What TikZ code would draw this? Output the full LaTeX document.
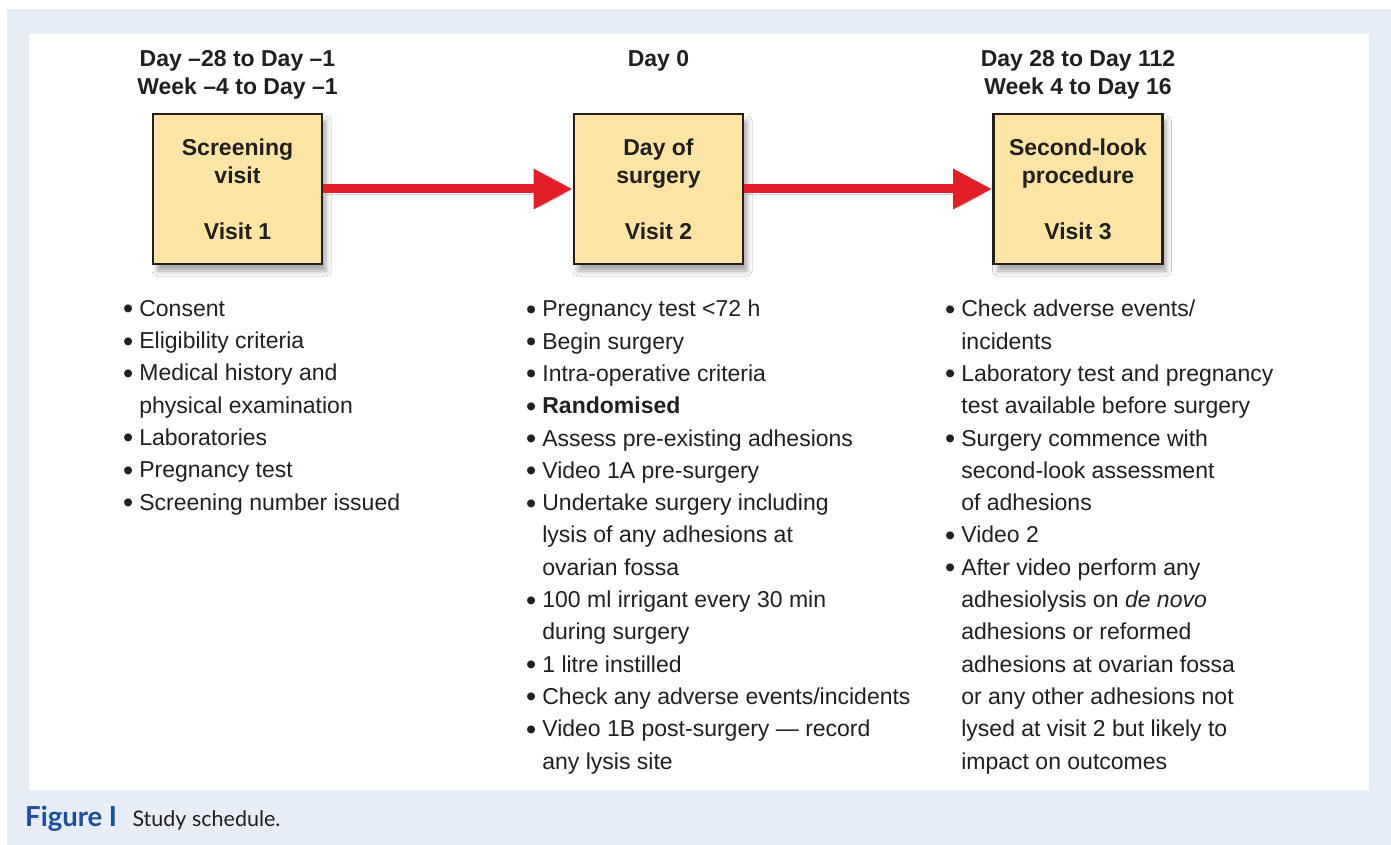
\documentclass[tikz,border=0pt]{standalone}
\usepackage{fontspec}
\setmainfont{Liberation Sans}
\newfontfamily\capfont{Lato}
\usetikzlibrary{positioning,arrows.meta,shadows.blur}
\definecolor{panelblue}{RGB}{230,237,247}
\definecolor{boxyellow}{RGB}{252,228,164}
\definecolor{arrowred}{RGB}{228,30,38}
\definecolor{capblue}{RGB}{28,78,158}
\definecolor{inkgray}{RGB}{35,31,32}
\newcommand{\dotmark}{\raisebox{-2.5pt}{\fontsize{29}{29}\selectfont\textbullet}}
\newcommand{\itm}[1]{\dotmark\hspace{6pt}#1}
\newcommand{\cnt}[1]{\hphantom{\dotmark\hspace{6pt}}#1}

\begin{document}
\begin{tikzpicture}[x=1pt, y=-1pt,
    visit/.style = {draw=inkgray, line width=2.8pt, fill=boxyellow, text=inkgray,
      minimum width=169pt, minimum height=150pt, align=center,
      font=\fontsize{23}{28}\selectfont\bfseries,
      blur shadow={shadow xshift=4pt, shadow yshift=-7pt, shadow blur radius=5pt, shadow opacity=35}},
    when/.style = {align=center, anchor=north, inner sep=0pt, text=inkgray,
      font=\fontsize{23}{28}\selectfont\bfseries},
    todo/.style = {align=left, anchor=north west, inner sep=0pt, text=inkgray,
      font=\fontsize{23}{32.3}\selectfont},
    flow/.style = {draw=arrowred, line width=9pt, -{Triangle[length=39pt,width=38pt]},
      preaction={draw=black, opacity=0.15, transform canvas={shift={(2pt,-5pt)}}}}]
  \useasboundingbox (0,0) rectangle (1391,845);
  % background and panel
  \fill[panelblue] (7,9) rectangle (1391,845);
  \fill[white] (29,34) rectangle (1369,790);

  % visits
  \node[visit] (box1) at (237.5,189) {Screening\\visit\\[28pt]Visit 1};
  \node[visit] (box2) at (658.5,189) {Day of\\surgery\\[28pt]Visit 2};
  \node[visit] (box3) at (1078,189) {Second-look\\procedure\\[28pt]Visit 3};

  % timing
  \node[when] (when1) at (box1.north |- 0,50) {Day –28 to Day –1\\Week –4 to Day –1};
  \node[when] (when2) at (box2.north |- 0,50) {Day 0};
  \node[when] (when3) at (box3.north |- 0,50) {Day 28 to Day 112\\Week 4 to Day 16};

  \draw[flow] (box1) -- (box2);
  \draw[flow] (box2) -- (box3);

  % what happens at each visit
  \node[todo] (list1) at (123,300) {\itm{Consent}\\
    \itm{Eligibility criteria}\\
    \itm{Medical history and}\\
    \cnt{physical examination}\\
    \itm{Laboratories}\\
    \itm{Pregnancy test}\\
    \itm{Screening number issued}};
  \node[todo] (list2) at (526,300) {\itm{Pregnancy test <72 h}\\
    \itm{Begin surgery}\\
    \itm{Intra-operative criteria}\\
    \itm{\textbf{Randomised}}\\
    \itm{Assess pre-existing adhesions}\\
    \itm{Video 1A pre-surgery}\\
    \itm{Undertake surgery including}\\
    \cnt{lysis of any adhesions at}\\
    \cnt{ovarian fossa}\\
    \itm{100 ml irrigant every 30 min}\\
    \cnt{during surgery}\\
    \itm{1 litre instilled}\\
    \itm{Check any adverse events/incidents}\\
    \itm{Video 1B post-surgery — record}\\
    \cnt{any lysis site}};
  \node[todo] (list3) at (945,300) {\itm{Check adverse events/}\\
    \cnt{incidents}\\
    \itm{Laboratory test and pregnancy}\\
    \cnt{test available before surgery}\\
    \itm{Surgery commence with}\\
    \cnt{second-look assessment}\\
    \cnt{of adhesions}\\
    \itm{Video 2}\\
    \itm{After video perform any}\\
    \cnt{adhesiolysis on \textit{de novo}}\\
    \cnt{adhesions or reformed}\\
    \cnt{adhesions at ovarian fossa}\\
    \cnt{or any other adhesions not}\\
    \cnt{lysed at visit 2 but likely to}\\
    \cnt{impact on outcomes}};

  % caption
  \node[anchor=base west, inner sep=0pt, text=capblue, font=\capfont\fontsize{27.5}{30}\selectfont\bfseries] (figtag) at (25,826) {Figure I};
  \node[anchor=base west, inner sep=0pt, text=inkgray, font=\capfont\fontsize{21.5}{30}\selectfont] (figtext) at ([xshift=15pt]figtag.base east) {Study schedule.};
\end{tikzpicture}
\end{document}
